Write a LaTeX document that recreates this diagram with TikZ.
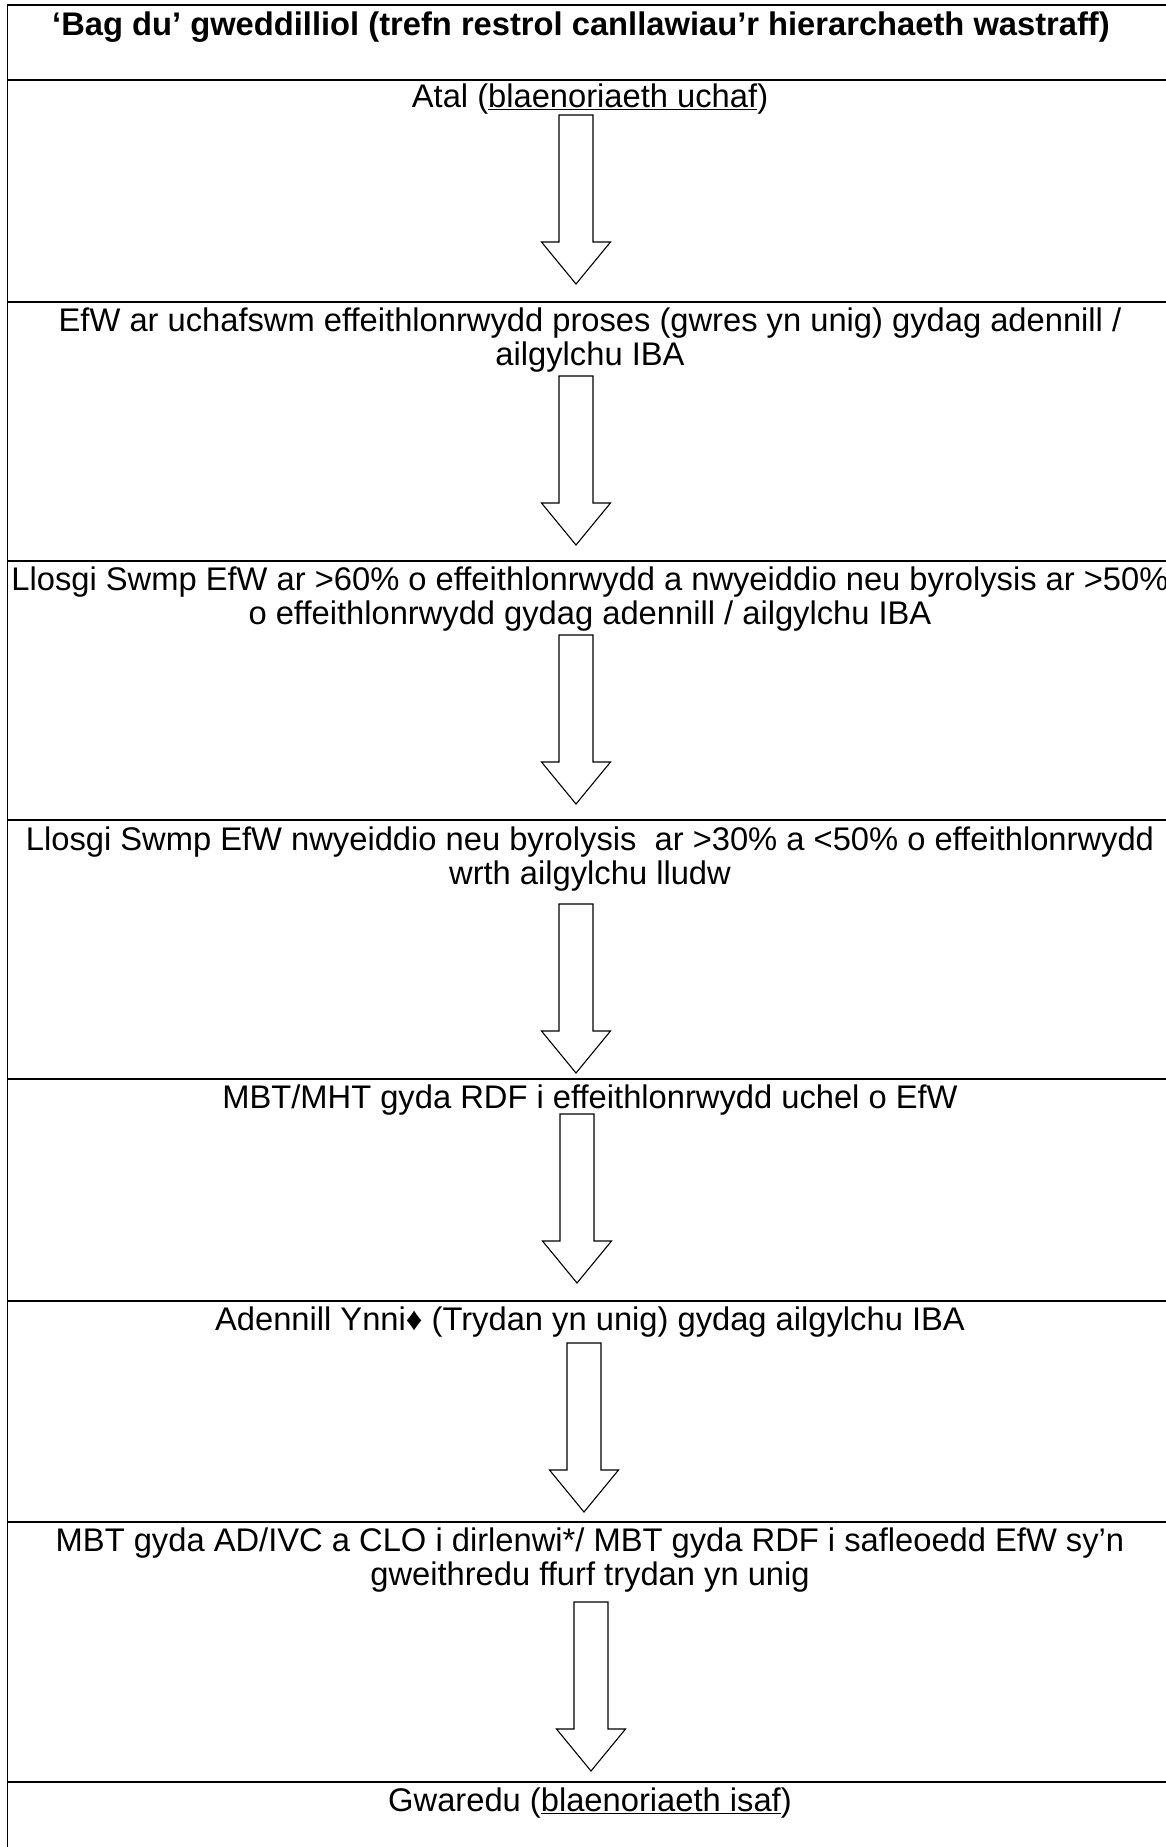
\documentclass[tikz,border=0pt]{standalone}
\usepackage{fontspec}
\setmainfont{Liberation Sans}
\usetikzlibrary{calc}
\tikzstyle{TableLine}=[line width=1.7pt, line cap=rect]
\tikzstyle{CellText}=[anchor=base, inner sep=0pt, font=\fontsize{32.7}{34}\selectfont]
\tikzstyle{HeadText}=[CellText, font=\fontsize{32.7}{34}\selectfont\bfseries]
\tikzstyle{BlockArrow}=[draw=black, line width=1.1pt, fill=white, line join=miter]
\tikzset{DownArrow/.pic={\draw[BlockArrow] (-17,0) -- (17,0) -- (17,127) -- (34.5,127) -- (0,169) -- (-34.5,127) -- (-17,127) -- cycle;}}

\begin{document}
\begin{tikzpicture}[x=1pt,y=-1pt]
\path[use as bounding box, clip] (0,0) rectangle (1166,1847);

% table rules
\draw[TableLine](7.5,4.7) -- (7.5,1860);
\draw[TableLine](7.5,4.7) -- (1180,4.7);
\draw[TableLine](7.5,80) -- (1180,80);
\draw[TableLine](7.5,302) -- (1180,302);
\draw[TableLine](7.5,561) -- (1180,561);
\draw[TableLine](7.5,820) -- (1180,820);
\draw[TableLine](7.5,1079) -- (1180,1079);
\draw[TableLine](7.5,1301) -- (1180,1301);
\draw[TableLine](7.5,1522) -- (1180,1522);
\draw[TableLine](7.5,1782) -- (1180,1782);

% header
\node[HeadText](Head) at (581,35) {‘Bag du’ gweddilliol (trefn restrol canllawiau’r hierarchaeth wastraff)};

% rows, top to bottom
\node[CellText](Atal) at (590,107) {Atal (\underline{blaenoriaeth uchaf})};
\node[CellText](EfWa) at (590,331) {EfW ar uchafswm effeithlonrwydd proses (gwres yn unig) gydag adennill /};
\node[CellText](EfWb) at (590,365) {ailgylchu IBA};
\node[CellText](SwmpA) at (590,590) {Llosgi Swmp EfW ar >60\% o effeithlonrwydd a nwyeiddio neu byrolysis ar >50\%};
\node[CellText](SwmpB) at (590,624) {o effeithlonrwydd gydag adennill / ailgylchu IBA};
\node[CellText](NwyA) at (590,850) {Llosgi Swmp EfW nwyeiddio neu byrolysis~ ar >30\% a <50\% o effeithlonrwydd};
\node[CellText](NwyB) at (590,884) {wrth ailgylchu lludw};
\node[CellText](MBT) at (590,1108) {MBT/MHT gyda RDF i effeithlonrwydd uchel o EfW};
\node[CellText](Ynni) at (590,1330) {Adennill Ynni♦ (Trydan yn unig) gydag ailgylchu IBA};
\node[CellText](DirA) at (590,1551) {MBT gyda AD/IVC a CLO i dirlenwi*/ MBT gyda RDF i safleoedd EfW sy’n};
\node[CellText](DirB) at (590,1585) {gweithredu ffurf trydan yn unig};
\node[CellText](Gwaredu) at (590,1811) {Gwaredu (\underline{blaenoriaeth isaf})};

% block arrows
\pic (ArrowA) at (576,115) {DownArrow};
\pic (ArrowB) at (576,376) {DownArrow};
\pic (ArrowC) at (576,635) {DownArrow};
\pic (ArrowD) at (576,904) {DownArrow};
\pic (ArrowE) at (577,1114) {DownArrow};
\pic (ArrowF) at (584,1343) {DownArrow};
\pic (ArrowG) at (591,1602) {DownArrow};

\end{tikzpicture}
\end{document}
